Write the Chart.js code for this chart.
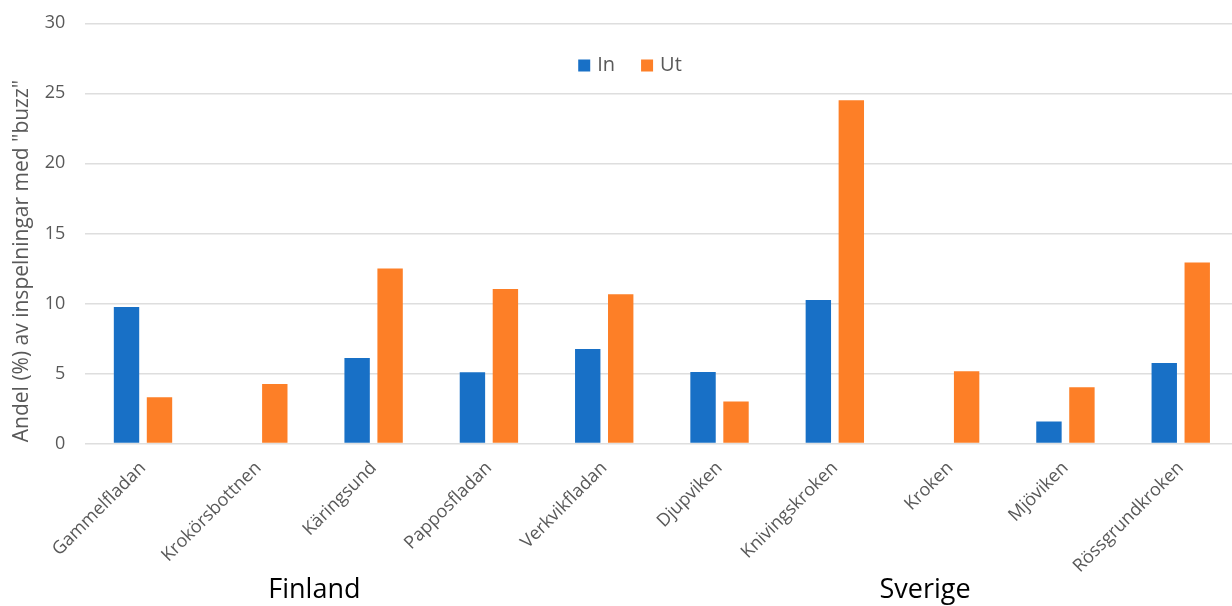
<!DOCTYPE html>
<html>
<head>
<meta charset="utf-8">
<script src="https://cdn.jsdelivr.net/npm/chart.js@4.4.1/dist/chart.umd.min.js"></script>
<style>
  html, body { margin: 0; padding: 0; background: #fff; overflow: hidden; }
  #wrap { position: relative; width: 1240px; height: 606px; }
</style>
</head>
<body>
<div id="wrap"><canvas id="c"></canvas></div>
<script>
// Sites (x categories)
const sites = ['Gammelfladan', 'Krokörsbottnen', 'Käringsund', 'Papposfladan', 'Verkvikfladan',
               'Djupviken', 'Knivingskroken', 'Kroken', 'Mjöviken', 'Rössgrundkroken'];
// Share (%) of recordings with "buzz"
const inValues = [9.75, 0, 6.1, 5.08, 6.75, 5.1, 10.25, 0, 1.57, 5.75];
const utValues = [3.3, 4.25, 12.5, 11.03, 10.65, 3.0, 24.5, 5.15, 4.02, 12.93];
// Country groups over the sites
const groupNames = ['Finland', 'Sverige'];
const groupFirst = [0, 5];
const groupLast = [4, 9];
// Axis
const yTicks = [0, 5, 10, 15, 20, 25, 30];
const yTitle = 'Andel (%) av inspelningar med "buzz"';

const FONT = '"Open Sans", "DejaVu Sans", sans-serif';
const TEXT_GRAY = '#595959';
const BLUE = '#1870c6';
const ORANGE = '#fd7f27';
const X_LABEL_SIZE = 18;

// Legend drawn inside the plot near the top
const legendPlugin = {
  id: 'inlineLegend',
  afterDraw(chart) {
    const ctx = chart.ctx;
    ctx.save();
    ctx.font = '20px ' + FONT;
    ctx.textBaseline = 'middle';
    const box = 12, gapBox = 7, gapItem = 26;
    const items = chart.data.datasets.map(d => ({ label: d.label, color: d.backgroundColor }));
    let total = 0;
    items.forEach((it, i) => {
      total += box + gapBox + ctx.measureText(it.label).width + (i < items.length - 1 ? gapItem : 0);
    });
    let x = 630 - total / 2;
    const cy = 65.5;
    items.forEach(it => {
      ctx.fillStyle = it.color;
      ctx.fillRect(x, cy - box / 2, box, box);
      x += box + gapBox;
      ctx.fillStyle = TEXT_GRAY;
      ctx.textAlign = 'left';
      ctx.fillText(it.label, x, cy);
      x += ctx.measureText(it.label).width + gapItem;
    });
    ctx.restore();
  }
};

// Vertical y-axis title and the country labels under the site names
const annotationsPlugin = {
  id: 'annotations',
  afterDraw(chart) {
    const ctx = chart.ctx;
    const xs = chart.scales.x;
    ctx.save();
    ctx.font = '21px ' + FONT;
    ctx.fillStyle = TEXT_GRAY;
    ctx.textAlign = 'center';
    ctx.textBaseline = 'middle';
    ctx.translate(22, 261);
    ctx.rotate(-Math.PI / 2);
    ctx.fillText(yTitle, 0, 0);
    ctx.restore();

    // group caption sits under the span covered by its rotated site names
    const nudge = [-18, 2];
    ctx.save();
    ctx.font = X_LABEL_SIZE + 'px ' + FONT;
    const cos45 = Math.SQRT1_2;
    groupNames.forEach((name, g) => {
      let lo = Infinity, hi = -Infinity;
      for (let i = groupFirst[g]; i <= groupLast[g]; i++) {
        const px = xs.getPixelForTick(i);
        const w = ctx.measureText(sites[i]).width * cos45;
        lo = Math.min(lo, px - w);
        hi = Math.max(hi, px + 5);
      }
      ctx.save();
      ctx.font = '27px ' + FONT;
      ctx.fillStyle = '#000';
      ctx.textAlign = 'center';
      ctx.textBaseline = 'middle';
      ctx.fillText(name, (lo + hi) / 2 + nudge[g], 590);
      ctx.restore();
    });
    ctx.restore();
  }
};

new Chart(document.getElementById('c'), {
  type: 'bar',
  data: {
    labels: sites,
    datasets: [
      { label: 'In', data: inValues, backgroundColor: BLUE },
      { label: 'Ut', data: utValues, backgroundColor: ORANGE }
    ]
  },
  options: {
    responsive: true,
    maintainAspectRatio: false,
    animation: false,
    devicePixelRatio: 1,
    layout: { padding: { left: 0, right: 1.6, top: 23.3, bottom: 0 } },
    datasets: { bar: { categoryPercentage: 0.572, barPercentage: 0.77 } },
    plugins: { legend: { display: false }, tooltip: { enabled: false } },
    scales: {
      x: {
        grid: { display: false, drawTicks: false },
        border: { display: false },
        ticks: {
          autoSkip: false, minRotation: 45, maxRotation: 45, padding: 14,
          color: TEXT_GRAY, font: { family: FONT, size: X_LABEL_SIZE }
        },
        afterFit(scale) {
          scale.height = 162.5;
          scale.paddingLeft = 0;
          scale.paddingRight = 0;
        }
      },
      y: {
        min: 0, max: 30,
        afterBuildTicks(scale) { scale.ticks = yTicks.map(v => ({ value: v })); },
        grid: { color: '#dedede', lineWidth: 1.5, drawTicks: false },
        border: { display: false },
        ticks: { padding: 20, color: TEXT_GRAY, font: { family: FONT, size: 18 } },
        afterFit(scale) {
          scale.width = 85.35;
          scale.paddingTop = 0;
          scale.paddingBottom = 0;
        }
      }
    }
  },
  plugins: [legendPlugin, annotationsPlugin]
});
</script>
</body>
</html>
